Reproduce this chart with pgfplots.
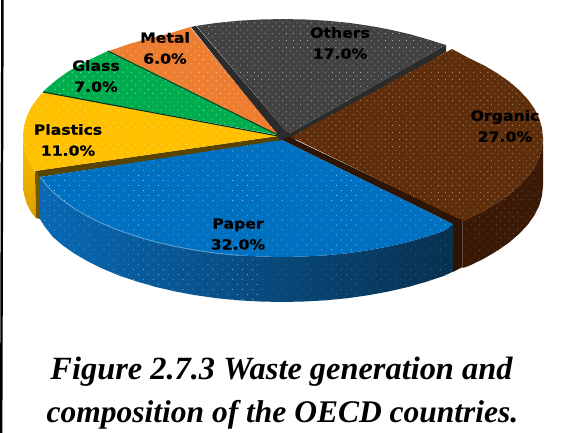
\documentclass[border=0pt]{standalone}
\usepackage{pgfplots}
\pgfplotsset{compat=1.18}
\usepackage{fontspec}
\usetikzlibrary{patterns.meta}
\setmainfont{Liberation Serif}
\newfontfamily\sliceface[FakeStretch=1.12,FakeBold=0.7]{DejaVu Sans Bold}
\definecolor{paper}{HTML}{0070C0}
\definecolor{paperdot}{HTML}{8CC4EC}
\definecolor{paperside}{HTML}{0869B4}
\definecolor{papersidemid}{HTML}{065592}
\definecolor{papersidedark}{HTML}{08304F}
\definecolor{organic}{HTML}{5E2D0C}
\definecolor{organicdot}{HTML}{C09468}
\definecolor{organicside}{HTML}{3A1A07}
\definecolor{organicwall}{HTML}{2E1405}
\definecolor{plastics}{HTML}{FFC000}
\definecolor{plasticsdot}{HTML}{FFE9A0}
\definecolor{plasticsside}{HTML}{D9A000}
\definecolor{glass}{HTML}{00AD4E}
\definecolor{glassdot}{HTML}{9BE0B5}
\definecolor{metal}{HTML}{ED7D31}
\definecolor{metaldot}{HTML}{F8C8A0}
\definecolor{others}{HTML}{424242}
\definecolor{othersdot}{HTML}{ABABAB}
\pgfplotsset{
  dotted face/.style 2 args={draw=none,postaction={pattern={Dots[angle=45,distance=#1,radius=0.58pt]},pattern color=#2}},
  dots only/.style 2 args={draw=none,pattern={Dots[angle=45,distance=#1,radius=0.58pt]},pattern color=#2},
}
\begin{document}
\begin{tikzpicture}
\begin{axis}[
  width=562pt,height=433pt,scale only axis,
  xmin=0,xmax=562,ymin=0,ymax=433,y dir=reverse,
  hide axis,clip=true,
]
% canvas and left rule
\addplot[fill=white,draw=none] coordinates {(0,0)(562,0)(562,433)(0,433)} -- cycle;
\addplot[fill=black,draw=none] coordinates {(1.2,0)(3.7,0)(2.4,433)(0,433)} -- cycle;

% side walls
\addplot[draw=none,top color=plastics,bottom color=plasticsside] coordinates {(23,136)(24,145.8)(26.8,155.6)(31.6,165.3)(35,172)(36,218)(31.6,213)(26.8,204)(24,194)(23,184)} -- cycle;
\addplot[fill=black!55!plastics,draw=none] coordinates {(35,172)(40,176)(40,219)(36,218)} -- cycle;
\addplot[fill=organicwall,draw=none] coordinates {(290,138)(462.5,220)(462.5,267)(453,272)(453,224)} -- cycle;
\addplot[fill=organicside,dotted face={6pt}{organicdot!45!organicside}] coordinates {(462.5,220.6)(468.9,217.9)(483.8,210.7)(497.2,202.8)(509.1,194.5)(519.2,185.8)(527.8,176.6)(534.4,167.3)(539.2,157.7)(542,147.8)(543,138)(543,186)(542,195.8)(539.2,205.7)(534.4,215.3)(527.8,224.6)(519.2,233.8)(509.1,242.5)(497.2,250.8)(483.8,258.7)(468.9,265.9)(462.5,268)} -- cycle;
\addplot[draw=none,left color=paperside,middle color=papersidemid,right color=papersidedark] coordinates {(40,177)(44.3,182.6)(52.7,191.8)(62.9,200.5)(74.8,208.8)(88.2,216.6)(103.1,223.9)(119.3,230.6)(136.9,236.5)(155.5,241.9)(175,246.4)(195.5,250.2)(216.5,253.2)(238,255.3)(260,256.5)(282,257)(304,256.5)(326,255.3)(347.5,253.2)(368.5,250.2)(389,246.4)(408.5,241.9)(427.1,236.5)(444.7,230.6)(453,224)(453,271.6)(444.7,275.6)(427.1,281.5)(408.5,286.9)(389,291.4)(368.5,295.2)(347.5,298.2)(326,300.3)(304,301.5)(282,302)(260,301.5)(238,300.3)(216.5,298.2)(195.5,295.2)(175,291.4)(155.5,286.9)(136.9,281.5)(119.3,275.6)(103.1,268.9)(88.2,261.6)(74.8,253.8)(62.9,245.5)(52.7,236.8)(44.3,226)(40,219)} -- cycle;
% dots on the front wall, dimmer towards the right
\addplot[dots only={7pt}{paperdot!70!paperside}] coordinates {(40,177)(44.3,182.6)(52.7,191.8)(62.9,200.5)(74.8,208.8)(88.2,216.6)(103.1,223.9)(119.3,230.6)(136.9,236.5)(155.5,241.9)(175,246.4)(195.5,250.2)(216.5,253.2)(238,255.3)(260,256.5)(260,301.5)(238,300.3)(216.5,298.2)(195.5,295.2)(175,291.4)(155.5,286.9)(136.9,281.5)(119.3,275.6)(103.1,268.9)(88.2,261.6)(74.8,253.8)(62.9,245.5)(52.7,236.8)(44.3,226)(40,219)} -- cycle;
\addplot[dots only={7pt}{paperdot!38!papersidedark}] coordinates {(260,256.5)(282,257)(304,256.5)(326,255.3)(347.5,253.2)(368.5,250.2)(389,246.4)(408.5,241.9)(427.1,236.5)(444.7,230.6)(453,224)(453,271.6)(444.7,275.6)(427.1,281.5)(408.5,286.9)(389,291.4)(368.5,295.2)(347.5,298.2)(326,300.3)(304,301.5)(282,302)(260,301.5)} -- cycle;

% inner walls along the cut edges
\addplot[fill=black!65!plastics,draw=none] coordinates {(35,171)(40,177)(282,141)(278,136)} -- cycle;
\addplot[fill=black!83,draw=none] coordinates {(191,27)(196,26)(285,130)(290,133)(446,45)(446,52)(291,142)(280,141)(277,135)} -- cycle;
\addplot[fill=organicwall,draw=none] coordinates {(289,137)(462.5,220)(453,224)(282,140)} -- cycle;

% upper faces
\addplot[fill=metal,dotted face={6pt}{metaldot}] coordinates {(278,135)(190,27)(169,33.6)(149.5,38.1)(130.8,43.5)(113.4,49.4)(108,51)} -- cycle;
\addplot[fill=glass,dotted face={6pt}{glassdot}] coordinates {(278,135)(108,51)(97.1,56.1)(82.2,63.4)(68.8,71.2)(56.9,79.5)(46.7,88.2)(43,92)} -- cycle;
\addplot[fill=plastics,dotted face={6pt}{plasticsdot}] coordinates {(278,136)(43,92)(38.3,97.4)(31.6,106.7)(26.8,116.4)(24,126.2)(23,136)(24,145.8)(26.8,155.6)(31.6,165.3)(35,171)} -- cycle;
\addplot[fill=others,dotted face={5pt}{othersdot}] coordinates {(196.5,25.8)(217.5,22.8)(239,20.7)(261,19.5)(283,19)(305,19.5)(327,20.7)(348.5,22.8)(369.5,25.8)(390,29.6)(409.5,34.1)(428.2,39.5)(446,45)(290,133)(285,130)} -- cycle;
\addplot[fill=organic,dotted face={5pt}{organicdot}] coordinates {(291,137)(452,49)(468.9,58.1)(483.8,65.3)(497.2,73.2)(509.1,81.5)(519.2,90.2)(527.8,99.4)(534.4,108.7)(539.2,118.3)(542,128.2)(543,138)(542,147.8)(539.2,157.7)(534.4,167.3)(527.8,176.6)(519.2,185.8)(509.1,194.5)(497.2,202.8)(483.8,210.7)(468.9,217.9)(462.5,220.6)} -- cycle;
\addplot[fill=paper,dotted face={7pt}{paperdot}] coordinates {(40,177)(282,140)(453,224)(444.7,230.6)(427.1,236.5)(408.5,241.9)(389,246.4)(368.5,250.2)(347.5,253.2)(326,255.3)(304,256.5)(282,257)(260,256.5)(238,255.3)(216.5,253.2)(195.5,250.2)(175,246.4)(155.5,241.9)(136.9,236.5)(119.3,230.6)(103.1,223.9)(88.2,216.6)(74.8,208.8)(62.9,200.5)(52.7,191.8)(44.3,182.6)} -- cycle;

% seams between the upper faces
\addplot[color=black!60!glass,line width=1pt] coordinates {(108,51)(278,135)};
\addplot[color=black!70!glass,line width=1.1pt] coordinates {(43,92)(278,136)};

% bevel highlight on the front rim
\addplot[color=paper!65!white,line width=0.9pt] coordinates {(40,177)(44.3,182.6)(52.7,191.8)(62.9,200.5)(74.8,208.8)(88.2,216.6)(103.1,223.9)(119.3,230.6)(136.9,236.5)(155.5,241.9)(175,246.4)(195.5,250.2)(216.5,253.2)(238,255.3)};

% slice labels
\def\slicelabel#1#2#3#4{\node[align=center,font=\sliceface\fontsize{14}{21}\selectfont,text=black] at (axis cs:#1,#2) {#3\\#4};}
\slicelabel{165}{48}{Metal}{6.0\%}
\slicelabel{96}{76}{Glass}{7.0\%}
\slicelabel{68}{140}{Plastics}{11.0\%}
\slicelabel{238}{234}{Paper}{32.0\%}
\slicelabel{340}{43}{Others}{17.0\%}
\slicelabel{505}{126}{Organic}{27.0\%}

% caption
\node[anchor=base,font=\bfseries\itshape\fontsize{32.4}{36}\selectfont] at (axis cs:281.5,379) {Figure 2.7.3 Waste generation and};
\node[anchor=base,font=\bfseries\itshape\fontsize{31.5}{36}\selectfont] at (axis cs:282.5,422) {composition of the OECD countries.};
\end{axis}
\end{tikzpicture}
\end{document}
